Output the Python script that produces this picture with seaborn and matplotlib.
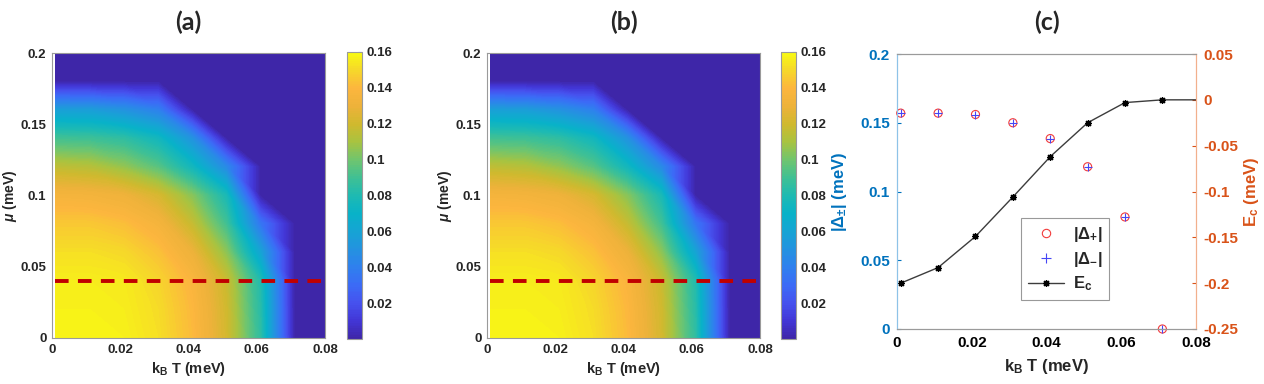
import numpy as np
import pandas as pd
import matplotlib
matplotlib.use("Agg")
import matplotlib.pyplot as plt
import matplotlib.tri as mtri
from matplotlib.colors import LinearSegmentedColormap
from matplotlib.lines import Line2D
import seaborn as sns

# ---------------- data ----------------
# heat-map grid (panels a and b): gap magnitude in meV
kT_grid = [0.001, 0.011, 0.021, 0.031, 0.041, 0.051, 0.061, 0.071, 0.081]
mu_grid = [0.00, 0.02, 0.04, 0.06, 0.08, 0.10, 0.12, 0.14, 0.16, 0.18, 0.20]
gap_mu000 = [0.158, 0.158, 0.157, 0.152, 0.141, 0.121, 0.085, 0.0, 0.0]
gap_mu002 = [0.157, 0.157, 0.156, 0.151, 0.140, 0.120, 0.083, 0.0, 0.0]
gap_mu004 = [0.156, 0.156, 0.155, 0.149, 0.138, 0.118, 0.081, 0.0, 0.0]
gap_mu006 = [0.152, 0.152, 0.150, 0.143, 0.130, 0.105, 0.060, 0.0, 0.0]
gap_mu008 = [0.145, 0.145, 0.142, 0.135, 0.117, 0.090, 0.035, 0.0, 0.0]
gap_mu010 = [0.135, 0.134, 0.131, 0.122, 0.104, 0.078, 0.0, 0.0, 0.0]
gap_mu012 = [0.115, 0.113, 0.106, 0.095, 0.075, 0.045, 0.0, 0.0, 0.0]
gap_mu014 = [0.090, 0.089, 0.085, 0.075, 0.050, 0.0, 0.0, 0.0, 0.0]
gap_mu016 = [0.057, 0.056, 0.050, 0.040, 0.0, 0.0, 0.0, 0.0, 0.0]
gap_mu018 = [0.0, 0.0, 0.0, 0.0, 0.0, 0.0, 0.0, 0.0, 0.0]
gap_mu020 = [0.0, 0.0, 0.0, 0.0, 0.0, 0.0, 0.0, 0.0, 0.0]
mu_cut = 0.04

# panel c
kT_pts = [0.001, 0.011, 0.021, 0.031, 0.041, 0.051, 0.061, 0.071]
delta_plus = [0.157, 0.157, 0.156, 0.150, 0.1385, 0.118, 0.0815, 0.0]
delta_minus = [0.157, 0.157, 0.156, 0.150, 0.1385, 0.118, 0.0815, 0.0]
kT_ec = [0.001, 0.011, 0.021, 0.031, 0.041, 0.051, 0.061, 0.071, 0.081]
E_c = [-0.200, -0.183, -0.149, -0.106, -0.062, -0.025, -0.003, 0.0, 0.0]

# tick labels
kT_ticks = [0, 0.02, 0.04, 0.06, 0.08]
kT_ticklabels = ['0', '0.02', '0.04', '0.06', '0.08']
mu_ticks = [0, 0.05, 0.1, 0.15, 0.2]
mu_ticklabels = ['0', '0.05', '0.1', '0.15', '0.2']
cb_ticks = [0.02, 0.04, 0.06, 0.08, 0.1, 0.12, 0.14, 0.16]
cb_ticklabels = ['0.02', '0.04', '0.06', '0.08', '0.1', '0.12', '0.14', '0.16']
dl_ticks = [0, 0.05, 0.1, 0.15, 0.2]
dl_ticklabels = ['0', '0.05', '0.1', '0.15', '0.2']
ec_ticks = [-0.25, -0.2, -0.15, -0.1, -0.05, 0, 0.05]
ec_ticklabels = ['-0.25', '-0.2', '-0.15', '-0.1', '-0.05', '0', '0.05']

# ---------------- style ----------------
sns.set_theme(style="white")
plt.rcParams['font.family'] = ['Liberation Sans', 'DejaVu Sans']
plt.rcParams['font.weight'] = 'bold'
plt.rcParams['axes.labelweight'] = 'bold'
plt.rcParams['mathtext.fontset'] = 'custom'
plt.rcParams['mathtext.rm'] = 'Liberation Sans'
plt.rcParams['mathtext.bf'] = 'Liberation Sans:bold'
plt.rcParams['mathtext.it'] = 'Liberation Sans:italic'
plt.rcParams['mathtext.sf'] = 'Liberation Sans'

cmap = LinearSegmentedColormap.from_list('parula_like', [
    (0.000, '#3E26A8'), (0.0625, '#4236D6'), (0.125, '#4652EE'),
    (0.1875, '#3B6BF6'), (0.25, '#2F80EE'), (0.3125, '#2492E0'),
    (0.375, '#16A4D4'), (0.4375, '#08B2C8'), (0.5, '#1EBAB2'),
    (0.5625, '#3FC094'), (0.625, '#70C56E'), (0.6875, '#A8C340'),
    (0.75, '#D0B92E'), (0.8125, '#EDB23A'), (0.875, '#FCB63E'),
    (0.9375, '#F6D72A'), (1.0, '#F8FA12')])

SPINE = '#9A9A9A'
BLUE = '#0072BD'
ORANGE = '#D95319'

fig = plt.figure(figsize=(12.64, 3.84), dpi=100)
W, H = 1264.0, 384.0


def box(x0, x1, ytop, ybot):
    return [x0 / W, 1 - ybot / H, (x1 - x0) / W, (ybot - ytop) / H]


gap = np.array([gap_mu000, gap_mu002, gap_mu004, gap_mu006, gap_mu008, gap_mu010,
                gap_mu012, gap_mu014, gap_mu016, gap_mu018, gap_mu020])
TT, MM = np.meshgrid(kT_grid, mu_grid)
nr, nc = gap.shape
tris = []
for i in range(nr - 1):
    for j in range(nc - 1):
        bl = i * nc + j
        br = bl + 1
        tl = bl + nc
        tr = tl + 1
        tris.append([bl, br, tl])
        tris.append([tl, br, tr])
triang = mtri.Triangulation(TT.ravel(), MM.ravel(), np.array(tris))
levels = np.linspace(0, 0.16, 161)


def style_spines(ax, color=SPINE):
    for s in ax.spines.values():
        s.set_color(color)
        s.set_linewidth(0.8)


def heat_panel(axbox, cbbox, title_x, title):
    ax = fig.add_axes(axbox)
    cs = ax.tricontourf(triang, gap.ravel(), levels=levels, cmap=cmap)
    cs.set_edgecolor('face')
    cs.set_linewidth(0.3)
    ax.plot([kT_grid[0], kT_ticks[-1]], [mu_cut, mu_cut], color='#C00000',
            lw=2.8, dashes=(3.5, 2.4), solid_capstyle='butt', dash_capstyle='butt')
    ax.set_xlim(0, 0.08)
    ax.set_ylim(0, 0.2)
    ax.set_xticks(kT_ticks)
    ax.set_xticklabels(kT_ticklabels)
    ax.set_yticks(mu_ticks)
    ax.set_yticklabels(mu_ticklabels)
    ax.tick_params(direction='in', length=3, width=0.8, color=SPINE,
                   labelsize=9.5, pad=4)
    ax.set_xlabel(r'k$_\mathbf{B}$ T (meV)', fontsize=10.5, labelpad=3)
    ax.set_ylabel(r'$\mu$ (meV)', fontsize=10, labelpad=1)
    style_spines(ax)
    for lab in ax.get_xticklabels() + ax.get_yticklabels():
        lab.set_fontweight('bold')
    cax = fig.add_axes(cbbox)
    cb = fig.colorbar(cs, cax=cax, ticks=cb_ticks)
    cb.ax.set_yticklabels(cb_ticklabels)
    cb.outline.set_edgecolor(SPINE)
    cb.outline.set_linewidth(0.8)
    cb.ax.tick_params(direction='in', length=3, width=0.8, color=SPINE,
                      labelsize=9.5, pad=3)
    for lab in cb.ax.get_yticklabels():
        lab.set_fontweight('bold')
    fig.text(title_x / W, 1 - 22 / H, title, ha='center', va='center',
             fontsize=18, family=['Lato', 'DejaVu Sans'], fontweight='bold')
    return ax


heat_panel(box(52, 325, 53, 338), box(347, 362, 52, 339), 188.5, '(a)')
heat_panel(box(487, 760, 53, 338), box(781, 796, 52, 339), 623.5, '(b)')

# ---------------- panel c ----------------
axc = fig.add_axes(box(897, 1196, 54, 329))
axr = axc.twinx()

df_gap = pd.DataFrame({'kT': kT_pts, 'dp': delta_plus, 'dm': delta_minus})
df_ec = pd.DataFrame({'kT': kT_ec, 'Ec': E_c})

sns.scatterplot(data=df_gap, x='kT', y='dp', ax=axc, marker='o', s=34,
                facecolors='none', edgecolors='#F23C3C', linewidth=0.8,
                zorder=3, clip_on=False, legend=False)
sns.scatterplot(data=df_gap, x='kT', y='dm', ax=axc, marker='+', s=40,
                color='#4646F5', linewidth=0.8, zorder=4, clip_on=False,
                legend=False)
sns.lineplot(data=df_ec, x='kT', y='Ec', ax=axr, color='#3C3C3C', lw=1.0,
             marker=(8, 2, 0), markersize=5, markeredgecolor='black',
             markeredgewidth=0.9, legend=False)

axc.set_xlim(0, 0.08)
axc.set_ylim(0, 0.2)
axr.set_ylim(-0.25, 0.05)
axc.set_xticks(kT_ticks)
axc.set_xticklabels(kT_ticklabels)
axc.set_yticks(dl_ticks)
axc.set_yticklabels(dl_ticklabels)
axr.set_yticks(ec_ticks)
axr.set_yticklabels(ec_ticklabels)

axc.tick_params(axis='x', direction='in', length=3, width=0.8, color=SPINE,
                labelsize=11, pad=5, labelcolor='black')
axc.tick_params(axis='y', direction='in', length=3, width=0.8, color=BLUE,
                labelsize=11, pad=5, labelcolor=BLUE)
axr.tick_params(axis='y', direction='in', length=3, width=0.8, color=ORANGE,
                labelsize=11, pad=5, labelcolor=ORANGE)
for lab in axc.get_xticklabels() + axc.get_yticklabels() + axr.get_yticklabels():
    lab.set_fontweight('bold')

axc.set_xlabel(r'k$_\mathbf{B}$ T (meV)', fontsize=12, labelpad=5)
axc.set_ylabel(r'|Δ$_{\mathbf{\pm}}$| (meV)', fontsize=12, color=BLUE, labelpad=8)
axr.set_ylabel(r'E$_\mathbf{c}$ (meV)', fontsize=12, color=ORANGE, labelpad=3)

for ax in (axc, axr):
    ax.spines['top'].set_color(SPINE)
    ax.spines['bottom'].set_color(SPINE)
    ax.spines['left'].set_color('#8EC3E8')
    ax.spines['right'].set_color('#F2B08C')
    for s in ax.spines.values():
        s.set_linewidth(0.8)

handles = [
    Line2D([], [], ls='none', marker='o', markersize=6, markerfacecolor='none',
           markeredgecolor='#F23C3C', markeredgewidth=0.8),
    Line2D([], [], ls='none', marker='+', markersize=6.5, color='#4646F5',
           markeredgewidth=0.8),
    Line2D([], [], color='#3C3C3C', lw=1.0, marker=(8, 2, 0), markersize=5,
           markeredgecolor='black', markeredgewidth=0.9),
]
labels = [r'|Δ$_{\mathbf{+}}$|', r'|Δ$_{\mathbf{-}}$|', r'E$_\mathbf{c}$']
leg = axr.legend(handles, labels, loc='lower left', bbox_to_anchor=(0.415, 0.105),
                 frameon=True, fancybox=False, edgecolor='#808080', fontsize=12,
                 handlelength=2.2, handletextpad=0.5, borderpad=0.4,
                 labelspacing=0.35, borderaxespad=0)
leg.get_frame().set_linewidth(0.8)
for t in leg.get_texts():
    t.set_fontweight('bold')

fig.text(1046.5 / W, 1 - 22 / H, '(c)', ha='center', va='center',
         fontsize=18, family=['Lato', 'DejaVu Sans'], fontweight='bold')

fig.savefig('out.png', dpi=100)
